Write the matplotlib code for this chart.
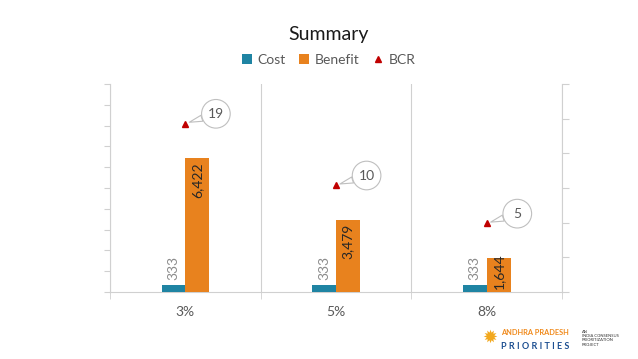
import matplotlib
matplotlib.use("Agg")
import matplotlib.pyplot as plt
from matplotlib.patches import Patch
from matplotlib.lines import Line2D
import numpy as np

plt.rcParams["font.family"] = ["Lato", "DejaVu Sans"]

categories = ["3%", "5%", "8%"]
cost = [333, 333, 333]
benefit = [6422, 3479, 1644]
bcr = [19.3, 10.4, 4.9]

costColor = "#1F84A3"
benefitColor = "#E8821E"
bcrColor = "#C00000"
axisColor = "#D0D0D0"
textGray = "#595959"

fig = plt.figure(figsize=(6.38, 3.59), dpi=100)
ax = fig.add_axes([0.1724, 0.1866, 0.7086, 0.5794])
ax2 = ax.twinx()

x = np.arange(len(categories))
w = 0.158
ax.bar(x - w / 2, cost, width=w, color=costColor, zorder=3)
ax.bar(x + w / 2, benefit, width=w, color=benefitColor, zorder=3)

# bar labels
for xi, v in zip(x, cost):
    ax.annotate(f"{v:,}", (xi - w / 2, v), xytext=(0, 4), textcoords="offset points",
                rotation=90, ha="center", va="bottom", fontsize=10, color="#8C8C8C")
for xi, v in zip(x, benefit):
    if v > 2500:
        ax.annotate(f"{v:,}", (xi + w / 2, v), xytext=(0, -3), textcoords="offset points",
                    rotation=90, ha="center", va="top", fontsize=10, color="#262626")
    else:
        ax.annotate(f"{v:,}", (xi + w / 2, 0), xytext=(0, 2), textcoords="offset points",
                    rotation=90, ha="center", va="bottom", fontsize=10, color="#262626")

ax.set_xlim(-0.5, 2.5)
ax.set_ylim(0, 10000)
ax.set_yticks(np.arange(0, 10001, 1000))
ax.set_yticklabels([])
ax.set_xticks(x)
ax.set_xticklabels(categories, fontsize=10, color=textGray)
ax.tick_params(axis="x", which="major", length=0, pad=10)
ax.set_xticks([-0.5, 0.5, 1.5, 2.5], minor=True)
ax.tick_params(axis="x", which="minor", length=5, color=axisColor)
ax.tick_params(axis="y", length=4, color=axisColor)
ax.grid(axis="x", which="minor", color=axisColor, linewidth=0.8)
ax.set_axisbelow(True)
for s in ["top", "right"]:
    ax.spines[s].set_visible(False)
for s in ["left", "bottom"]:
    ax.spines[s].set_color(axisColor)

# BCR on secondary axis
ax2.plot(x, bcr, linestyle="none", marker="^", markersize=4, color=bcrColor, zorder=4)
ax2.set_ylim(-5, 25)
ax2.set_yticks(np.arange(-5, 26, 5))
ax2.set_yticklabels([])
ax2.tick_params(axis="y", length=5, color=axisColor)
for s in ["top", "left", "bottom"]:
    ax2.spines[s].set_visible(False)
ax2.spines["right"].set_color(axisColor)

for xi, v in zip(x, bcr):
    label = f"{v:.0f}"
    pad = 0.45 if len(label) > 1 else 0.6
    ax2.annotate(label, (xi, v), xytext=(22, 7), textcoords="offset points",
                 ha="center", va="center", fontsize=10, color=textGray,
                 bbox=dict(boxstyle=f"circle,pad={pad}", fc="white", ec="#BFBFBF", lw=0.8),
                 arrowprops=dict(arrowstyle="wedge,tail_width=0.45,shrink_factor=0.5",
                                 fc="white", ec="#BFBFBF", lw=0.8, shrinkA=0, shrinkB=3))

fig.text(0.515, 0.905, "Summary", ha="center", va="center", fontsize=14, color="#1A1A1A")

handles = [
    Patch(facecolor=costColor, label="Cost"),
    Patch(facecolor=benefitColor, label="Benefit"),
    Line2D([], [], linestyle="none", marker="^", markersize=4, color=bcrColor, label="BCR"),
]
leg = fig.legend(handles=handles, loc="center", bbox_to_anchor=(0.515, 0.833), ncol=3,
                 frameon=False, fontsize=10, handlelength=0.7, handleheight=0.7,
                 handletextpad=0.4, columnspacing=1.0)
for t in leg.get_texts():
    t.set_color(textGray)

# logo
fig.text(0.768, 0.058, "\u2739", ha="center", va="center", fontsize=13, color="#F2A81D",
         family="DejaVu Sans")
fig.text(0.785, 0.075, "ANDHRA PRADESH", ha="left", va="center", fontsize=5.3,
         color="#F08A1C", fontweight="bold")
fig.text(0.785, 0.036, "P R I O R I T I E S", ha="left", va="center", fontsize=6.5,
         color="#1D4F91", fontweight="bold")
fig.text(0.912, 0.058, "AN\nINDIA CONSENSUS\nPRIORITIZATION\nPROJECT", ha="left", va="center",
         fontsize=3, color="#333333", linespacing=1.1)

fig.savefig("out.png", dpi=100)
